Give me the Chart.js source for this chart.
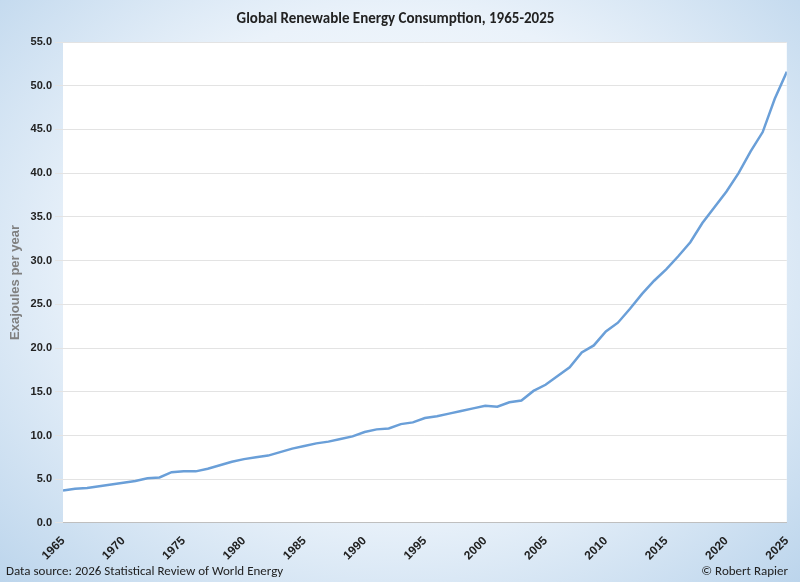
<!DOCTYPE html>
<html>
<head>
<meta charset="utf-8">
<script src="https://cdn.jsdelivr.net/npm/chart.js@4"></script>
<style>
  html, body { margin:0; padding:0; }
  body {
    width:800px; height:582px; overflow:hidden; position:relative;
    background: radial-gradient(ellipse at 50% 45%, #ffffff 0%, #eaf2fa 55%, #bcd5ec 100%);
    font-family: Calibri, Carlito, "Open Sans", sans-serif;
  }
  #wrap { position:absolute; left:0; top:0; width:800px; height:582px; }
  .foot { position:absolute; top:563px; font-size:13px; color:#222; }
</style>
</head>
<body>
<div id="wrap"><canvas id="myChart"></canvas></div>
<div class="foot" style="left:6px">Data source: 2026 Statistical Review of World Energy</div>
<div class="foot" style="right:12px">© Robert Rapier</div>
<script>
const years = [];
for (let y = 1965; y <= 2025; y++) years.push(y);

const consumption = [
  3.7, 3.9, 4.0, 4.2, 4.4, 4.6, 4.8, 5.1, 5.2, 5.8,
  5.9, 5.9, 6.2, 6.6, 7.0, 7.3, 7.5, 7.7, 8.1, 8.5,
  8.8, 9.1, 9.3, 9.6, 9.9, 10.4, 10.7, 10.8, 11.3, 11.5,
  12.0, 12.2, 12.5, 12.8, 13.1, 13.4, 13.3, 13.8, 14.0, 15.1,
  15.8, 16.8, 17.8, 19.5, 20.3, 21.9, 22.9, 24.5, 26.2, 27.7,
  29.0, 30.5, 32.1, 34.3, 36.1, 37.9, 40.0, 42.5, 44.7, 48.5,
  51.6
];

const whitePlot = {
  id: "whitePlot",
  beforeDraw(chart) {
    const { ctx, chartArea: a } = chart;
    ctx.save();
    ctx.fillStyle = "#ffffff";
    ctx.fillRect(a.left, a.top, a.right - a.left, a.bottom - a.top);
    ctx.restore();
  }
};

const ctx = document.getElementById("myChart").getContext("2d");

new Chart(ctx, {
  type: "line",
  data: {
    datasets: [{
      label: "Renewable consumption",
      data: years.map((y, i) => ({ x: y, y: consumption[i] })),
      borderColor: "#6a9fd8",
      borderWidth: 2.5,
      pointRadius: 0,
      tension: 0,
      fill: false
    }]
  },
  options: {
    responsive: true,
    maintainAspectRatio: false,
    animation: false,
    layout: { padding: { left: 4, right: 13, top: 0, bottom: 16 } },
    plugins: {
      legend: { display: false },
      tooltip: { enabled: false },
      title: {
        display: true,
        text: "Global Renewable Energy Consumption, 1965-2025",
        color: "#222",
        font: { size: 15, weight: "bold", family: "Calibri, Carlito, 'Open Sans', sans-serif" },
        padding: { top: 10, bottom: 14 }
      }
    },
    scales: {
      x: {
        type: "linear",
        min: 1965,
        max: 2025,
        grid: { display: false },
        border: { color: "#bfbfbf" },
        ticks: {
          stepSize: 5,
          maxRotation: 45,
          minRotation: 45,
          color: "#222",
          font: { size: 12, weight: "bold" },
          callback: v => String(v)
        }
      },
      y: {
        min: 0,
        max: 55,
        grid: { color: "#e3e3e3" },
        border: { display: false },
        ticks: {
          stepSize: 5,
          color: "#222",
          font: { size: 11, weight: "bold" },
          callback: v => v.toFixed(1)
        },
        title: {
          display: true,
          text: "Exajoules per year",
          color: "#808080",
          font: { size: 13, weight: "bold" }
        }
      }
    }
  },
  plugins: [whitePlot]
});
</script>
</body>
</html>
